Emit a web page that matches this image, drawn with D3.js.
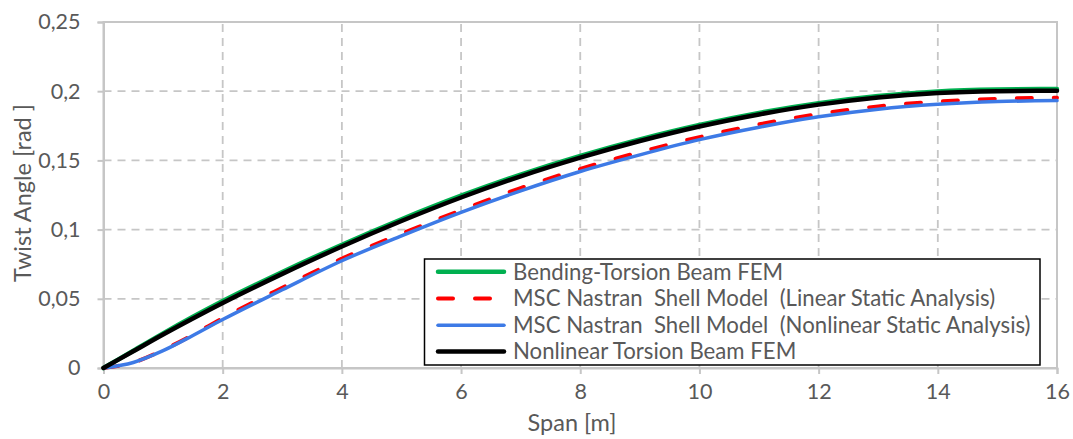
<!DOCTYPE html>
<html>
<head>
<meta charset="utf-8">
<script src="https://cdn.jsdelivr.net/npm/d3@7"></script>
<style>
  html, body { margin: 0; padding: 0; background: #fff; }
  svg text { font-family: Lato, "Open Sans", sans-serif; fill: #595959; }
</style>
</head>
<body>
<svg id="chart" width="1073" height="439"></svg>
<script>
// Span positions along the wing [m]
const span = [0, 0.5, 1, 1.5, 2, 3, 4, 5, 6, 7, 8, 9, 10, 11, 12, 13, 14, 15, 16];

// Twist angle [rad] for each model
const bendingTorsionFEM = [0, 0.0125, 0.0250, 0.0370, 0.0484, 0.0694, 0.0891, 0.1075, 0.1245, 0.1398, 0.1533, 0.1652, 0.1756, 0.1843, 0.1913, 0.1965, 0.1998, 0.2012, 0.2016];
const nastranLinear     = [0, 0.0040, 0.0130, 0.0240, 0.0360, 0.0580, 0.0790, 0.0970, 0.1140, 0.1300, 0.1438, 0.1560, 0.1668, 0.1760, 0.1835, 0.1890, 0.1925, 0.1945, 0.1952];
const nastranNonlinear  = [0, 0.0040, 0.0125, 0.0235, 0.0350, 0.0565, 0.0775, 0.0955, 0.1125, 0.1280, 0.1420, 0.1540, 0.1650, 0.1740, 0.1815, 0.1870, 0.1905, 0.1925, 0.1932];
const nonlinearTorsion  = [0, 0.0121, 0.0242, 0.0358, 0.0470, 0.0680, 0.0878, 0.1062, 0.1232, 0.1385, 0.1520, 0.1640, 0.1745, 0.1832, 0.1903, 0.1955, 0.1987, 0.2000, 0.2003];

const xTicks = [0, 2, 4, 6, 8, 10, 12, 14, 16];
const yTicks = [0, 0.05, 0.1, 0.15, 0.2, 0.25];

const seriesNames = [
  "Bending-Torsion Beam FEM",
  "MSC Nastran  Shell Model  (Linear Static Analysis)",
  "MSC Nastran  Shell Model  (Nonlinear Static Analysis)",
  "Nonlinear Torsion Beam FEM"
];
const seriesValues = [bendingTorsionFEM, nastranLinear, nastranNonlinear, nonlinearTorsion];
const seriesStyles = [
  { color: "#00b050", width: 4.5, dash: null },
  { color: "#ff0000", width: 4,   dash: "15,22" },
  { color: "#3d7ae6", width: 3.5, dash: null },
  { color: "#000000", width: 4.5, dash: null }
];

const svg = d3.select("#chart");
const x = d3.scaleLinear().domain([0, 16]).range([103.5, 1057]);
const y = d3.scaleLinear().domain([0, 0.25]).range([368, 22]);

const locale = d3.formatLocale({ decimal: ",", thousands: ".", grouping: [3], currency: ["", ""] });
const fmt = v => (v === 0 ? "0" : locale.format("~g")(v));

const gridColor = "#c6c6c6";

// dashed gridlines
const grid = svg.append("g");
grid.selectAll("line.h").data(yTicks.filter(d => d > 0 && d < 0.25)).join("line")
  .attr("x1", x(0)).attr("x2", x(16))
  .attr("y1", d => y(d)).attr("y2", d => y(d))
  .attr("stroke", gridColor).attr("stroke-width", 1.8).attr("stroke-dasharray", "8,6");
grid.selectAll("line.v").data(xTicks.filter(d => d > 0 && d < 16)).join("line")
  .attr("y1", y(0)).attr("y2", y(0.25))
  .attr("x1", d => x(d)).attr("x2", d => x(d))
  .attr("stroke", gridColor).attr("stroke-width", 1.8).attr("stroke-dasharray", "8,6");

// plot frame
svg.append("rect")
  .attr("x", x(0)).attr("y", y(0.25))
  .attr("width", x(16) - x(0)).attr("height", y(0) - y(0.25))
  .attr("fill", "none").attr("stroke", gridColor).attr("stroke-width", 2);

// axes
const xAxis = svg.append("g").attr("transform", `translate(0,${y(0)})`)
  .call(d3.axisBottom(x).tickValues(xTicks).tickFormat(d3.format("d")).tickSize(6).tickPadding(10));
const yAxis = svg.append("g").attr("transform", `translate(${x(0)},0)`)
  .call(d3.axisLeft(y).tickValues(yTicks).tickFormat(fmt).tickSize(6).tickPadding(17));
[xAxis, yAxis].forEach(a => {
  a.select(".domain").attr("stroke", gridColor).attr("stroke-width", 2);
  a.selectAll(".tick line").attr("stroke", gridColor).attr("stroke-width", 2);
  a.selectAll(".tick text").attr("font-size", 21.5).attr("fill", "#595959")
    .style("font-family", "Lato, 'Open Sans', sans-serif");
});
xAxis.selectAll(".tick text").attr("dy", "0.72em");

// axis titles
svg.append("text").attr("x", 572).attr("y", 431).attr("text-anchor", "middle")
  .attr("font-size", 23.5).text("Span [m]");
svg.append("text").attr("transform", `translate(31,193) rotate(-90)`).attr("text-anchor", "middle")
  .attr("font-size", 23.5).text("Twist Angle [rad ]");

// curves
const line = d3.line().x((d, i) => x(span[i])).y(d => y(d)).curve(d3.curveMonotoneX);
const curves = svg.append("g");
seriesValues.forEach((vals, k) => {
  const s = seriesStyles[k];
  curves.append("path").datum(vals)
    .attr("d", line)
    .attr("fill", "none")
    .attr("stroke", s.color)
    .attr("stroke-width", s.width)
    .attr("stroke-linecap", "round")
    .attr("stroke-linejoin", "round")
    .attr("stroke-dasharray", s.dash);
});

// legend
const lg = svg.append("g");
lg.append("rect").attr("x", 424.5).attr("y", 259).attr("width", 615.5).attr("height", 106)
  .attr("fill", "#fff").attr("stroke", "#000").attr("stroke-width", 1.5);
const rowY = [271.7, 298.5, 325.2, 351.5];
seriesNames.forEach((name, k) => {
  const s = seriesStyles[k];
  lg.append("line").attr("x1", 438).attr("x2", 504).attr("y1", rowY[k]).attr("y2", rowY[k])
    .attr("stroke", s.color).attr("stroke-width", s.width)
    .attr("stroke-linecap", "round").attr("stroke-dasharray", s.dash);
  lg.append("text").attr("x", 513).attr("y", rowY[k]).attr("dy", "0.36em")
    .attr("font-size", 22.2).attr("xml:space", "preserve").style("white-space", "pre")
    .text(name);
});
</script>
</body>
</html>
